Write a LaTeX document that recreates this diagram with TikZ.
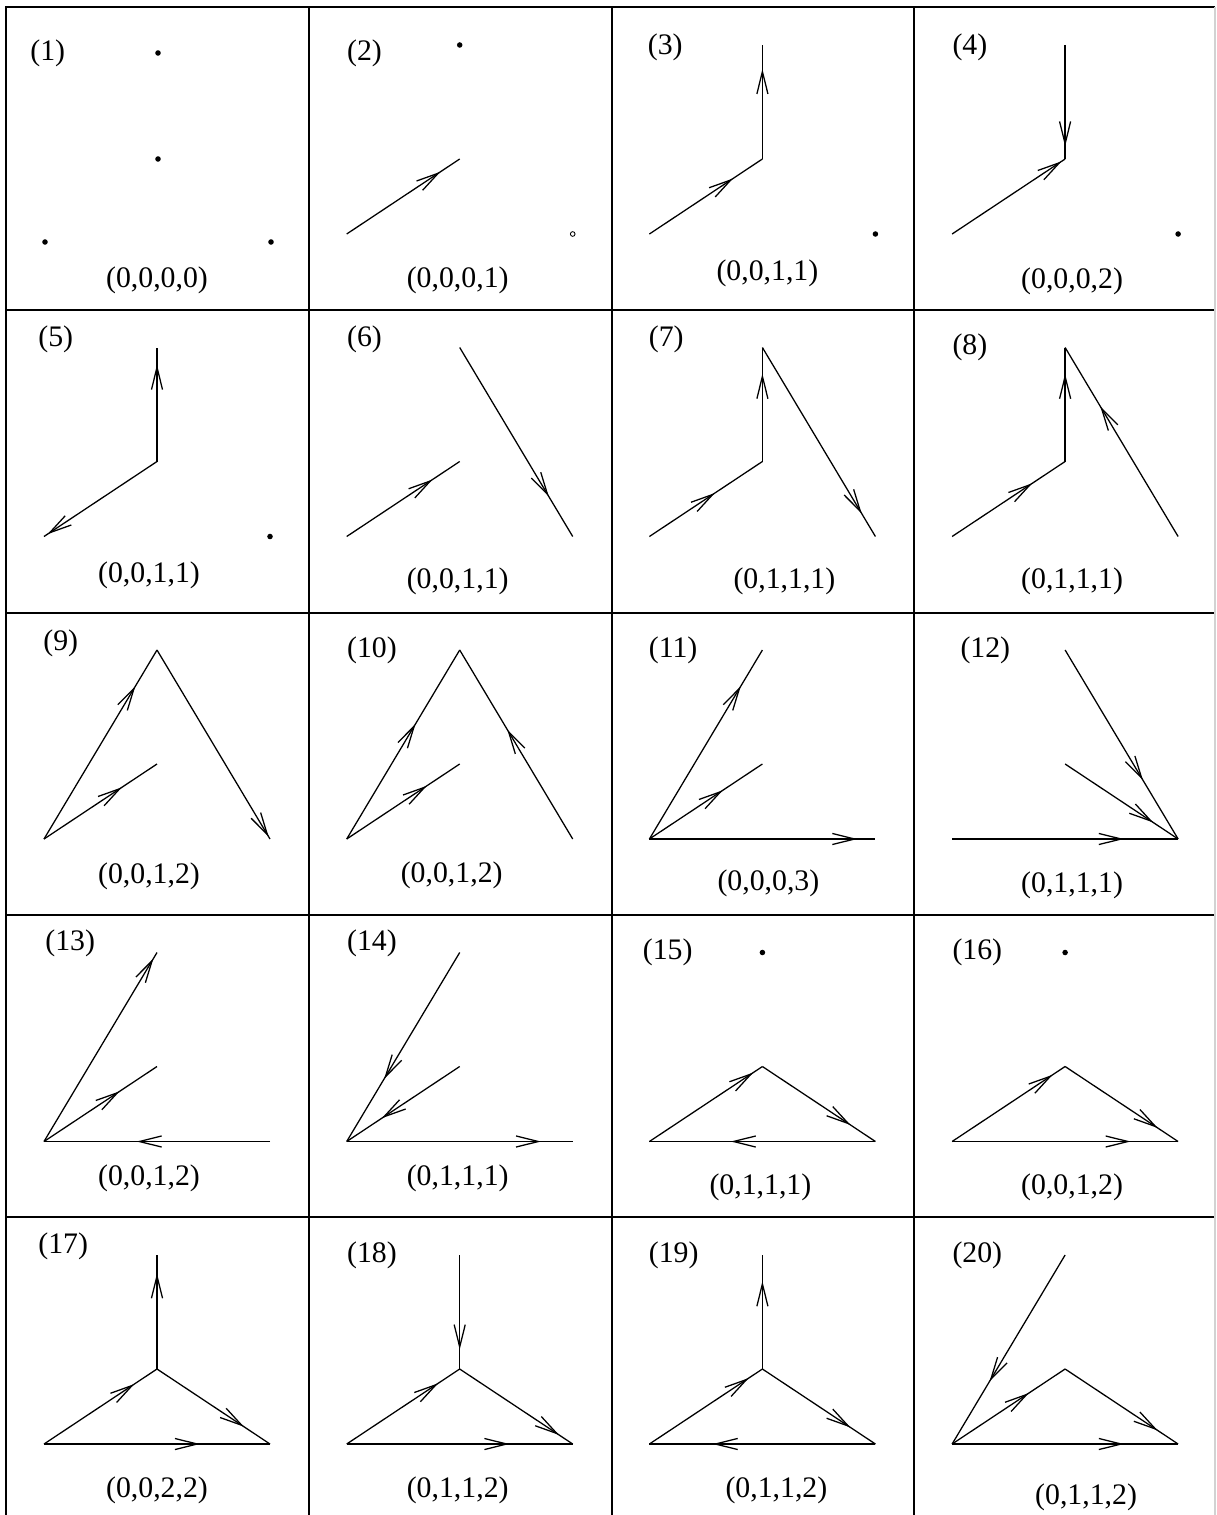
\documentclass[tikz,border=0pt]{standalone}
\usepackage{fontspec}
\setmainfont{Liberation Serif}
\usetikzlibrary{arrows.meta,decorations.markings,calc}

\begin{document}
\begin{tikzpicture}[x=0.47pt, y=-0.47pt,
  rule/.style={line width=0.7pt},
  line/.style={line width=0.6pt},
  midtip/.style={line, decoration={markings,
      mark=at position #1 with {\arrow{Straight Barb[length=10.5pt,width=5.2pt,line width=0.6pt]}}},
    postaction={decorate}},
  num/.style={anchor=west, inner sep=0, font=\fontsize{14}{16}\selectfont},
  tup/.style={inner sep=0, font=\fontsize{14}{16}\selectfont}]
\newcommand{\seg}[3]{\draw[midtip=#3] (#1) -- (#2);}% from, to, tip position
\useasboundingbox (0,0) rectangle (1216,1515);

% grid
\draw[rule] (6,1515) -- (6,7) -- (1215,7);
\foreach \y in {310,613,915,1217} \draw[rule] (6,\y) -- (1215,\y);
\foreach \x in {309,612,914} \draw[rule] (\x,7) -- (\x,1515);
\draw[gray!35, line width=0.6pt] (1215,7) -- (1215,1515);

% corner points of every cell
\foreach \n in {1,...,20} {
  \pgfmathsetmacro{\cx}{6+302.7*mod(\n-1,4)}
  \pgfmathsetmacro{\cy}{7+302.5*int((\n-1)/4)}
  \coordinate (o\n) at (\cx,\cy);
  \coordinate (top\n) at (\cx+151,\cy+38);
  \coordinate (mid\n) at (\cx+151,\cy+152);
  \coordinate (lft\n) at (\cx+38,\cy+227);
  \coordinate (rgt\n) at (\cx+264,\cy+227);
}

% numbers
\foreach \n/\dx/\dy in {1/24/46, 2/38/46, 3/36/40, 4/38/40, 5/32/30, 6/38/30, 7/37/30,
    8/38/38, 9/37/31, 10/38/38, 11/37/38, 12/46/38, 13/39/29, 14/38/29, 15/31/38,
    16/38/38, 17/32/29, 18/38/38, 19/37/38, 20/38/38}
  \node[num] (lab\n) at ($(o\n)+(\dx,\dy)$) {(\n)};

% tuples
\foreach \n/\t/\dx/\dy in {1/{(0,0,0,0)}/151/273, 2/{(0,0,0,1)}/149/273,
    3/{(0,0,1,1)}/156/266, 4/{(0,0,0,2)}/158/274, 5/{(0,0,1,1)}/143/266,
    6/{(0,0,1,1)}/149/272, 7/{(0,1,1,1)}/173/272, 8/{(0,1,1,1)}/158/272,
    9/{(0,0,1,2)}/143/264, 10/{(0,0,1,2)}/143/263, 11/{(0,0,0,3)}/157/271,
    12/{(0,1,1,1)}/158/273, 13/{(0,0,1,2)}/143/264, 14/{(0,1,1,1)}/149/264,
    15/{(0,1,1,1)}/149/273, 16/{(0,0,1,2)}/158/273, 17/{(0,0,2,2)}/151/273,
    18/{(0,1,1,2)}/149/273, 19/{(0,1,1,2)}/165/273, 20/{(0,1,1,2)}/172/280}
  \node[tup] (tup\n) at ($(o\n)+(\dx,\dy)$) {\t};

% (1)
\fill ($(top1)+(1,8)$) circle (1.3pt) ($(mid1)+(1,0)$) circle (1.3pt)
  ($(lft1)+(1,8)$) circle (1.3pt) ($(rgt1)+(1,8)$) circle (1.3pt);
% (2)
\fill (top2) circle (1.3pt);
\seg{lft2}{mid2}{0.83}
\draw[line width=0.4pt] (rgt2) circle (1.1pt);
% (3)
\seg{mid3}{top3}{0.79}
\seg{lft3}{mid3}{0.74}
\fill (rgt3) circle (1.3pt);
% (4)
\seg{top4}{mid4}{0.89}
\seg{lft4}{mid4}{0.97}
\fill (rgt4) circle (1.3pt);
% (5)
\seg{mid5}{top5}{0.85}
\seg{mid5}{lft5}{0.97}
\fill (rgt5) circle (1.3pt);
% (6)
\seg{lft6}{mid6}{0.76}
\seg{top6}{rgt6}{0.79}
% (7)
\seg{mid7}{top7}{0.77}
\seg{lft7}{mid7}{0.58}
\seg{top7}{rgt7}{0.88}
% (8)
\seg{mid8}{top8}{0.77}
\seg{lft8}{mid8}{0.71}
\seg{rgt8}{top8}{0.69}
% (9)
\seg{lft9}{top9}{0.81}
\seg{top9}{rgt9}{0.99}
\seg{lft9}{mid9}{0.69}
% (10)
\seg{lft10}{top10}{0.61}
\seg{rgt10}{top10}{0.58}
\seg{lft10}{mid10}{0.71}
% (11)
\seg{lft11}{top11}{0.81}
\seg{lft11}{mid11}{0.65}
\seg{lft11}{rgt11}{0.92}
% (12)
\seg{top12}{rgt12}{0.69}
\seg{mid12}{rgt12}{0.78}
\seg{lft12}{rgt12}{0.76}
% (13)
\seg{lft13}{top13}{0.97}
\seg{lft13}{mid13}{0.67}
\seg{rgt13}{lft13}{0.59}
% (14)
\seg{top14}{lft14}{0.67}
\seg{mid14}{lft14}{0.69}
\seg{lft14}{rgt14}{0.86}
% (15)
\fill (top15) circle (1.3pt);
\seg{lft15}{mid15}{0.92}
\seg{mid15}{rgt15}{0.78}
\seg{rgt15}{lft15}{0.64}
% (16)
\fill (top16) circle (1.3pt);
\seg{lft16}{mid16}{0.89}
\seg{mid16}{rgt16}{0.82}
\seg{lft16}{rgt16}{0.79}
% (17)
\seg{mid17}{top17}{0.84}
\seg{lft17}{mid17}{0.80}
\seg{mid17}{rgt17}{0.77}
\seg{lft17}{rgt17}{0.69}
% (18)
\seg{top18}{mid18}{0.83}
\seg{lft18}{mid18}{0.81}
\seg{mid18}{rgt18}{0.88}
\seg{lft18}{rgt18}{0.72}
% (19)
\seg{mid19}{top19}{0.77}
\seg{lft19}{mid19}{0.88}
\seg{mid19}{rgt19}{0.78}
\seg{rgt19}{lft19}{0.72}
% (20)
\seg{top20}{lft20}{0.67}
\seg{lft20}{mid20}{0.68}
\seg{mid20}{rgt20}{0.82}
\seg{lft20}{rgt20}{0.76}
\end{tikzpicture}
\end{document}
